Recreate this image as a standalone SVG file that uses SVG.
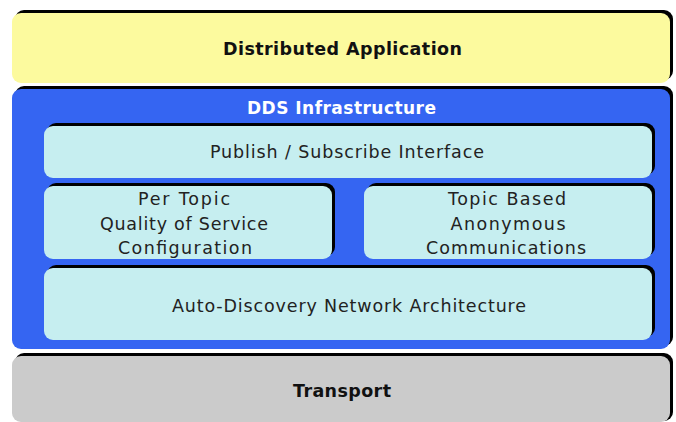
<svg xmlns="http://www.w3.org/2000/svg" width="676" height="422" viewBox="0 0 676 422">
<style>
.sh{fill:#000}
.yel{fill:#fcfa9e}
.blu{fill:#3565f2}
.cy{fill:#c6eef0}
.gr{fill:#cbcbcb}
text{font-family:"DejaVu Sans","Liberation Sans",sans-serif;text-anchor:middle}
.t{font-size:17.5px;font-weight:bold;fill:#111}
.w{font-size:17px;font-weight:bold;fill:#fff}
.n{font-size:17.5px;fill:#222}
</style>
<rect width="676" height="422" fill="#fff"/>
<g id="app">
<rect class="sh" x="15" y="10" width="658" height="70" rx="9"/>
<rect class="yel" x="12" y="13" width="658" height="70" rx="9"/>
<text class="t" x="342.5" y="55" textLength="239" lengthAdjust="spacing">Distributed Application</text>
</g>
<g id="dds">
<rect class="sh" x="15" y="86" width="658" height="260" rx="9"/>
<rect class="blu" x="12" y="89" width="658" height="260" rx="9"/>
<text class="w" x="341.5" y="114" textLength="189" lengthAdjust="spacing">DDS Infrastructure</text>
</g>
<g id="pubsub">
<rect class="sh" x="47" y="123" width="608" height="52" rx="9"/>
<rect class="cy" x="44" y="126" width="608" height="52" rx="9"/>
<text class="n" x="347" y="158" textLength="274" lengthAdjust="spacing">Publish / Subscribe Interface</text>
</g>
<g id="qos">
<rect class="sh" x="47" y="183" width="288" height="73" rx="9"/>
<rect class="cy" x="44" y="186" width="288" height="73" rx="9"/>
<text class="n" x="184" y="205" textLength="92" lengthAdjust="spacing">Per Topic</text>
<text class="n" x="184" y="230" textLength="168" lengthAdjust="spacing">Quality of Service</text>
<text class="n" x="185" y="254" textLength="134" lengthAdjust="spacing">Configuration</text>
</g>
<g id="anon">
<rect class="sh" x="367" y="183" width="288" height="73" rx="9"/>
<rect class="cy" x="364" y="186" width="288" height="73" rx="9"/>
<text class="n" x="507" y="205" textLength="118" lengthAdjust="spacing">Topic Based</text>
<text class="n" x="508" y="230" textLength="115" lengthAdjust="spacing">Anonymous</text>
<text class="n" x="506" y="254" textLength="160" lengthAdjust="spacing">Communications</text>
</g>
<g id="discovery">
<rect class="sh" x="47" y="265" width="608" height="72" rx="9"/>
<rect class="cy" x="44" y="268" width="608" height="72" rx="9"/>
<text class="n" x="349" y="312" textLength="354" lengthAdjust="spacing">Auto-Discovery Network Architecture</text>
</g>
<g id="transport">
<rect class="sh" x="15" y="353" width="658" height="68" rx="9"/>
<rect class="gr" x="12" y="356" width="658" height="66" rx="9"/>
<text class="t" x="342" y="397" textLength="98" lengthAdjust="spacing">Transport</text>
</g>
<g id="connectors"/>
</svg>
